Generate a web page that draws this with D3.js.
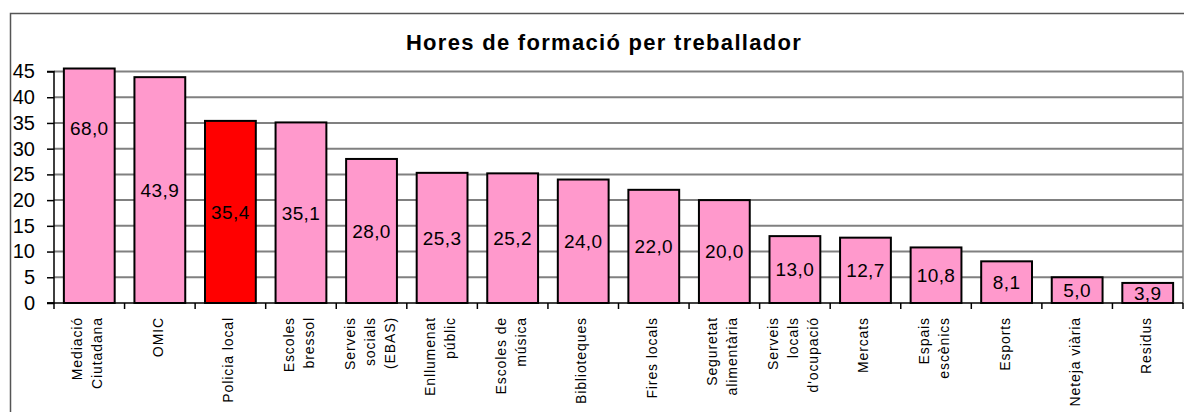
<!DOCTYPE html>
<html>
<head>
<meta charset="utf-8">
<script src="https://cdn.jsdelivr.net/npm/d3@7"></script>
<style>
  html, body { margin: 0; padding: 0; background: #fff; }
  svg { display: block; }
  text { font-family: Arial, "Liberation Sans", sans-serif; }
</style>
</head>
<body>
<svg id="chart" width="1184" height="412"></svg>
<script>
// ---- data ----
const categories = [
  ["Mediació", "Ciutadana"],
  ["OMIC"],
  ["Policia local"],
  ["Escoles", "bressol"],
  ["Serveis", "socials", "(EBAS)"],
  ["Enllumenat", "públic"],
  ["Escoles de", "música"],
  ["Biblioteques"],
  ["Fires locals"],
  ["Seguretat", "alimentària"],
  ["Serveis", "locals", "d'ocupació"],
  ["Mercats"],
  ["Espais", "escènics"],
  ["Esports"],
  ["Neteja viària"],
  ["Residus"]
];
const values = [68.0, 43.9, 35.4, 35.1, 28.0, 25.3, 25.2, 24.0, 22.0, 20.0, 13.0, 12.7, 10.8, 8.1, 5.0, 3.9];
const highlighted = ["Policia local"];
const yTicks = [0, 5, 10, 15, 20, 25, 30, 35, 40, 45];
const titleText = "Hores de formació per treballador";

(function () {
// ---- layout ----
const svg = d3.select("#chart");
const pLeft = 54, pRight = 1183, pTop = 71.5, pBottom = 303;
const yMax = 45;

const keys = categories.map(c => c.join(" "));
const x = d3.scaleBand().domain(keys).range([pLeft, pRight]).paddingInner(0.28).paddingOuter(0.14);
const y = d3.scaleLinear().domain([0, yMax]).range([pBottom, pTop]);

// outer chart border
svg.append("path")
  .attr("d", `M10.5,412 V13.5 H1184`)
  .attr("fill", "none").attr("stroke", "#555").attr("stroke-width", 1.5);

// title
svg.append("text")
  .attr("x", 604).attr("y", 50)
  .attr("text-anchor", "middle")
  .attr("font-size", 22).attr("font-weight", "bold")
  .attr("letter-spacing", 1.3)
  .text(titleText);

// gridlines
svg.append("g").selectAll("line").data(yTicks.filter(t => t > 0)).join("line")
  .attr("x1", pLeft).attr("x2", pRight)
  .attr("y1", d => y(d)).attr("y2", d => y(d))
  .attr("stroke", "#808080").attr("stroke-width", 2);
// right border of plot area
svg.append("line")
  .attr("x1", pRight).attr("x2", pRight).attr("y1", y(yMax)).attr("y2", pBottom)
  .attr("stroke", "#808080").attr("stroke-width", 1.5);

// bars
const fillFor = k => highlighted.includes(k) ? "#FF0000" : "#FF99CC";
svg.append("g").selectAll("rect").data(values).join("rect")
  .attr("x", (d, i) => x(keys[i]))
  .attr("width", x.bandwidth())
  .attr("y", d => d > yMax ? y(yMax) - 3 : y(d))
  .attr("height", d => d > yMax ? pBottom - y(yMax) + 3 : pBottom - y(d))
  .attr("fill", (d, i) => fillFor(keys[i]))
  .attr("stroke", "#000").attr("stroke-width", 2);

// value labels (centred at half value)
const fmt = v => d3.format(".1f")(v).replace(".", ",");
svg.append("g").selectAll("text").data(values).join("text")
  .attr("x", (d, i) => x(keys[i]) + x.bandwidth() / 2)
  .attr("y", d => y(d / 2))
  .attr("dy", "0.36em")
  .attr("text-anchor", "middle")
  .attr("font-size", 19)
  .attr("letter-spacing", 0.4)
  .attr("fill", "#000")
  .text(fmt);

// y axis
const yAxis = d3.axisLeft(y).tickValues(yTicks).tickSize(7).tickPadding(12).tickFormat(d3.format("d"));
const yg = svg.append("g").attr("transform", `translate(${pLeft},0)`).call(yAxis);
yg.select(".domain").attr("stroke", "#000").attr("stroke-width", 1.5).attr("d", `M-7,${pTop}H0V${pBottom}H-7`);
yg.selectAll(".tick line").attr("stroke", "#000").attr("stroke-width", 1.5);
yg.selectAll(".tick text").attr("font-size", 20).attr("fill", "#000")
  .attr("font-family", "Arial, 'Liberation Sans', sans-serif");

// x axis line
svg.append("line").attr("x1", pLeft - 7).attr("x2", pRight).attr("y1", pBottom).attr("y2", pBottom)
  .attr("stroke", "#000").attr("stroke-width", 1.5);
// x tick marks at category boundaries
const step = x.step();
const boundaries = d3.range(keys.length + 1).map(i => pLeft + i * step);
svg.append("g").selectAll("line").data(boundaries).join("line")
  .attr("x1", d => d).attr("x2", d => d)
  .attr("y1", pBottom).attr("y2", pBottom + 6)
  .attr("stroke", "#000").attr("stroke-width", 1.5);

// x labels, rotated -90, multi-line
const lineGap = 20;
const xl = svg.append("g");
categories.forEach((lines, i) => {
  const cx = x(keys[i]) + x.bandwidth() / 2;
  const n = lines.length;
  lines.forEach((ln, j) => {
    const off = (j - (n - 1) / 2) * lineGap;
    const tx = cx + off + 3;
    const ty = 317;
    xl.append("text")
      .attr("transform", `translate(${tx},${ty}) rotate(-90)`)
      .attr("text-anchor", "end")
      .attr("font-size", 14)
      .attr("letter-spacing", 0.9)
      .attr("fill", "#000")
      .text(ln);
  });
});
})();
</script>
</body>
</html>
